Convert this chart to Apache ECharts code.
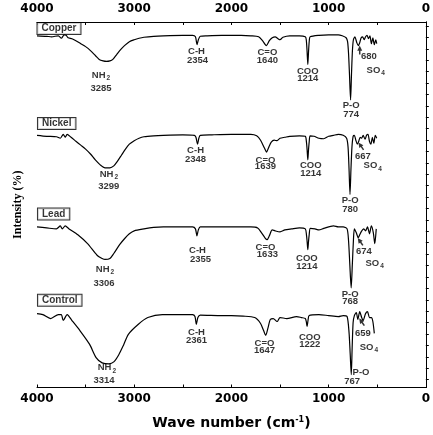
<!DOCTYPE html>
<html>
<head>
<meta charset="UTF-8">
<title>FTIR spectra</title>
<script src="https://cdn.jsdelivr.net/npm/echarts@6/dist/echarts.min.js"></script>
<style>html,body{margin:0;padding:0;background:#fff;}</style>
</head>
<body>
<div id="chart" style="width:433px;height:435px;"></div>
<script>
// spectra, [wavenumber, relative intensity] ; baseline ~100
var copper = [[4000,100],[3900,99.5],[3850,99],[3780,100],[3750,97.5],[3720,101],[3700,100.5],[3680,98],[3640,97],
  [3600,95],[3550,92],[3500,89],[3450,85],[3400,80],[3360,76],[3320,74.5],[3285,74],[3250,74.5],[3220,76],
  [3180,81],[3140,86],[3100,90],[3050,94],[3000,96],[2950,97.5],[2900,98.5],[2800,99.5],[2700,100],[2500,100.5],
  [2400,100.5],[2370,99],[2354,91],[2340,96],[2320,99.5],[2250,100],[2100,100.5],[1900,100.5],[1800,100],
  [1720,99],[1680,95],[1640,90],[1610,95],[1580,98],[1550,99],[1520,97],[1500,96],[1470,98.5],[1400,100],
  [1300,100],[1240,99],[1230,96],[1222,85],[1214,71],[1206,85],[1198,96],[1190,99],[1100,100.5],[1000,101],
  [900,101],[860,100],[820,98],[805,94],[795,82],[785,60],[774,35],[765,60],[755,85],[745,96],[730,99],
  [710,93],[695,90],[680,93],[665,98],[650,99],[635,96],[620,99],[605,100.5],[590,97],[575,100],[560,92],
  [545,98],[530,91],[515,96],[505,92]];
var nickel = [[4000,100],[3900,99],[3800,98.5],[3760,97],[3730,101],[3710,98],[3690,101],[3650,98],[3600,94],
  [3550,90],[3500,86],[3450,81],[3400,75],[3350,70],[3300,67],[3250,67],[3210,69],[3170,74],[3130,80],
  [3090,86],[3050,91],[3000,94.5],[2950,97],[2900,98.5],[2800,99.5],[2700,100],[2500,100.5],[2380,100],
  [2365,98],[2348,91],[2335,97],[2320,100],[2200,100.5],[2000,101],[1800,101],[1740,99.5],[1700,95],
  [1660,87],[1639,83],[1615,88],[1590,93],[1560,95],[1530,94.5],[1500,97],[1450,98],[1400,99],[1300,99.5],
  [1240,99],[1228,93],[1221,85],[1214,75],[1207,85],[1200,93],[1190,99.5],[1150,99],[1100,97],[1050,96.5],
  [1000,99],[950,100],[900,101],[850,100],[815,97],[800,88],[790,66],[780,40],[770,66],[760,88],[748,99],
  [735,100],[720,95],[705,91],[690,94],[675,98],[660,97],[645,100],[625,96],[610,100],[595,101],[580,94],
  [565,91],[550,98],[535,92],[520,100],[505,97]];
var lead = [[4000,100],[3900,99],[3800,98],[3760,101],[3740,98],[3710,101],[3670,98],[3580,92],[3480,83],
  [3380,71],[3330,68],[3300,67],[3250,68],[3210,73],[3150,82],[3100,88],[3050,93],[3000,96],[2900,98],
  [2800,99.5],[2700,100],[2400,100],[2370,98],[2355,91],[2340,97],[2320,100],[2000,100],[1800,100],
  [1730,99],[1690,94],[1655,89],[1633,87],[1610,91],[1580,97],[1550,96],[1500,95],[1450,97],[1380,98],
  [1300,99],[1240,98],[1228,92],[1221,85],[1214,77],[1207,85],[1200,92],[1188,98.5],[1140,98],[1100,97],
  [1050,98.5],[950,101],[900,100],[850,100],[810,98],[795,86],[782,62],[768,38],[756,62],[745,86],[735,98],
  [715,94],[695,89],[680,92],[665,95],[640,98],[620,96],[600,100],[580,93],[560,101],[540,94],[525,83],
  [510,98]];
var control = [[4000,101],[3940,100],[3860,96],[3780,100],[3750,100],[3730,94],[3690,100],[3640,94],
  [3560,84],[3460,70],[3390,56],[3330,51],[3260,50],[3210,52],[3160,59],[3110,69],[3060,80],[2960,90],
  [2860,97],[2710,100],[2400,100],[2375,98],[2361,90],[2345,97],[2320,99.5],[2100,99],[2000,99],
  [1880,98.5],[1760,97],[1700,91],[1670,84],[1647,79],[1625,86],[1600,95],[1570,96],[1530,93],[1500,97],
  [1430,96],[1330,98],[1280,97],[1240,96],[1230,93],[1222,88],[1212,94],[1200,99],[1100,100],[1000,99],
  [900,98],[850,99],[810,98],[790,82],[778,60],[767,39],[758,66],[748,92],[735,99],[715,102],[700,95],
  [680,103],[660,97],[645,94],[620,101],[600,103],[580,97],[560,97],[545,93],[530,81]];

var sampleNames = ['Copper', 'Nickel', 'Lead', 'Control'];
var spectra = [copper, nickel, lead, control];
var offsets = [257, 156, 63, -26];   // vertical stacking of the traces

// peak labels [wavenumber, level, text]
var copperNotes = [[2359,84,'C-H'],[2349,75,'2354'],[3342,60,'{n|NH}{s|2}'],[3342,47,'3285'],
  [1630,83,'C=O'],[1630,75,'1640'],[1214,64,'COO'],[1214,57,'1214'],[769,29,'P-O'],[769,20,'774'],
  [586,79,'680'],[515,65,'{n|SO}{s|4}']];
var nickelNotes = [[2369,85,'C-H'],[2369,76,'2348'],[3261,60,'{n|NH}{s|2}'],[3261,48,'3299'],
  [1650,75,'C=O'],[1650,68,'1639'],[1184,69,'COO'],[1184,61,'1214'],[779,34,'P-O'],[779,25,'780'],
  [647,79,'667'],[546,69,'{n|SO}{s|4}']];
var leadNotes = [[2349,76,'C-H'],[2318,67,'2355'],[3301,57,'{n|NH}{s|2}'],[3311,43,'3306'],
  [1650,79,'C=O'],[1630,72,'1633'],[1224,68,'COO'],[1224,60,'1214'],[779,32,'P-O'],[779,24,'768'],
  [637,75,'674'],[526,63,'{n|SO}{s|4}']];
var controlNotes = [[2359,82,'C-H'],[2359,74,'2361'],[3281,46,'{n|NH}{s|2}'],[3311,33,'3314'],
  [1660,71,'C=O'],[1660,64,'1647'],[1194,77,'COO'],[1194,70,'1222'],[667,41,'P-O'],[758,32,'767'],
  [647,81,'659'],[586,67,'{n|SO}{s|4}']];
var notes = [copperNotes, nickelNotes, leadNotes, controlNotes];

// sample name boxes [wavenumber, level]
var namePos = [[3995,107.5],[3990,112],[3990,113],[3990,114.5]];
// arrows [wavenumber, level, rotation]
var arrows = [[680,85.5,0],[667,89,35],[674,85,35],[659,92.5,35]];

var xLabels = [0, 1000, 2000, 3000, 4000];

var chart = echarts.init(document.getElementById('chart'), null, {renderer: 'canvas'});

var labelFont = {color: '#000', fontFamily: 'Liberation Sans', fontWeight: 'bold', fontSize: 9.5, lineHeight: 10};
var rich = {
  n: {color: '#000', fontFamily: 'Liberation Sans', fontWeight: 'bold', fontSize: 9.5},
  s: {color: '#000', fontFamily: 'Liberation Sans', fontWeight: 'bold', fontSize: 6.5, padding: [6, 0, 0, 1]}
};

var series = [];
spectra.forEach(function (sp, i) {
  series.push({
    name: sampleNames[i],
    type: 'line',
    data: sp.map(function (p) { return [p[0], p[1] + offsets[i]]; }),
    symbol: 'none',
    smooth: 0.25,
    lineStyle: {color: '#000', width: 1.2},
    silent: true,
    z: 2
  });
});

var noteData = [];
notes.forEach(function (list, i) {
  list.forEach(function (n) {
    noteData.push({value: [n[0], n[1] + offsets[i]], name: n[2]});
  });
});
series.push({
  type: 'scatter',
  data: noteData,
  symbolSize: 0,
  silent: true,
  label: Object.assign({show: true, position: 'inside', formatter: '{b}', rich: rich}, labelFont),
  z: 3
});

series.push({
  type: 'scatter',
  data: namePos.map(function (p, i) {
    return {value: [p[0], p[1] + offsets[i]], name: sampleNames[i]};
  }),
  symbolSize: 0,
  silent: true,
  label: {
    show: true, position: 'right', distance: 0, formatter: '{b}',
    color: '#000', fontFamily: 'Liberation Sans', fontWeight: 'bold', fontSize: 10,
    borderColor: '#000', borderWidth: 1, padding: [1, 4, 0, 4], backgroundColor: '#fff'
  },
  z: 4
});

series.push({
  type: 'scatter',
  data: arrows.map(function (a, i) {
    return {value: [a[0], a[1] + offsets[i]], symbolRotate: a[2]};
  }),
  symbol: 'path://M5,0 L10,8 L6.5,8 L6.5,14 L3.5,14 L3.5,8 L0,8 Z',
  symbolSize: [5, 9],
  itemStyle: {color: '#000'},
  silent: true,
  z: 3
});

function xAxisOf(pos) {
  return {
    type: 'value', position: pos, min: 0, max: 4000, interval: 500, inverse: true,
    axisLine: {show: true, onZero: false, lineStyle: {color: '#000', width: 1}},
    axisTick: {show: true, inside: true, length: 3, lineStyle: {color: '#000'}},
    axisLabel: {
      show: true, margin: pos === 'top' ? 7 : 5, color: '#000', fontFamily: 'DejaVu Sans', fontWeight: 'bold', fontSize: 12,
      showMinLabel: true, showMaxLabel: true, hideOverlap: false,
      formatter: function (v) { return xLabels.indexOf(v) >= 0 ? String(v) : ''; }
    },
    splitLine: {show: false}
  };
}

var yTicks = [];
for (var t = 8; t < 371; t += 11.58) yTicks.push(t);

var bottomX = xAxisOf('bottom');
bottomX.name = 'Wave number (cm{sup|-1})';
bottomX.nameLocation = 'middle';
bottomX.nameGap = 28;
bottomX.nameTextStyle = {
  color: '#000', fontFamily: 'DejaVu Sans', fontWeight: 'bold', fontSize: 14,
  rich: {sup: {color: '#000', fontFamily: 'DejaVu Sans', fontWeight: 'bold', fontSize: 8, padding: [0, 0, 7, 0]}}
};

var option = {
  animation: false,
  backgroundColor: '#fff',
  grid: {left: 37, right: 3, top: 22, bottom: 42},
  xAxis: [bottomX, xAxisOf('top')],
  yAxis: [{
    type: 'value', position: 'left', min: 0, max: 371,
    name: 'Intensity (%)', nameLocation: 'middle', nameGap: 13,
    nameTextStyle: {color: '#000', fontFamily: 'Liberation Serif', fontWeight: 'bold', fontSize: 12},
    axisLine: {show: true, lineStyle: {color: '#000', width: 1}},
    axisTick: {show: true, inside: true, length: 3, customValues: yTicks, lineStyle: {color: '#000'}},
    axisLabel: {show: false},
    splitLine: {show: false}
  }, {
    type: 'value', position: 'right', min: 0, max: 371,
    axisLine: {show: true, lineStyle: {color: '#000', width: 1}},
    axisTick: {show: false}, axisLabel: {show: false}, splitLine: {show: false}
  }],
  series: series
};
chart.setOption(option);
</script>
</body>
</html>
